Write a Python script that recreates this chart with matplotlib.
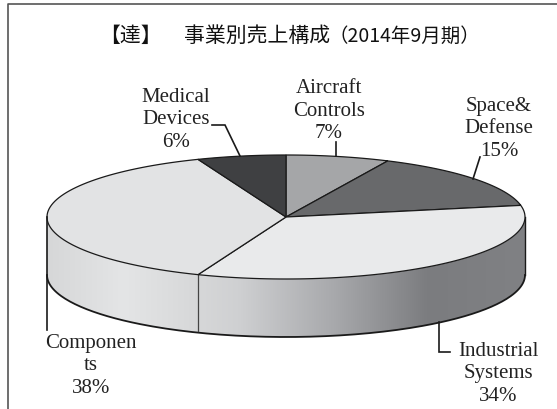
import numpy as np
import matplotlib
matplotlib.use('Agg')
import matplotlib.pyplot as plt
from matplotlib.colors import LinearSegmentedColormap
from matplotlib.patches import Polygon

# Values
segments = ['Aircraft\nControls', 'Space&\nDefense', 'Industrial\nSystems', 'Componen\nts', 'Medical\nDevices']
shares = [7, 15, 34, 38, 6]
top_colors = ['#a5a6a8', '#68696b', '#e9eaeb', '#e2e3e4', '#3f4042']

CX, CY, RX, RY, DEPTH = 286, 218, 239, 62, 58


def rim(a):
    # a is degrees clockwise from the top of the pie
    a = np.radians(a)
    return CX + RX * np.sin(a), CY - RY * np.cos(a)


fig = plt.figure(figsize=(5.57, 4.10), dpi=100)
ax = fig.add_axes([0, 0, 1, 1])
ax.set_xlim(0, 557)
ax.set_ylim(410, 0)
ax.axis('off')

# Outer frame, open on the right and at the bottom
ax.plot([7.5, 7.5, 557], [410, 4.5, 4.5], color='#555555', lw=1.2)

edges = np.concatenate([[0], np.cumsum(shares) * 3.6])

# Side wall, shaded left to right
side_cmap = LinearSegmentedColormap.from_list('side', [
    (0.00, '#d6d7d8'), (0.16, '#e4e5e6'), (0.32, '#d6d7d8'), (0.40, '#cfd0d2'),
    (0.60, '#a8a9ac'), (0.80, '#7b7c7f'), (1.00, '#808184')])
t = np.linspace(90, 270, 200)
x, y = rim(t)
wall = np.column_stack([np.r_[x, x[::-1]], np.r_[y, y[::-1] + DEPTH]])
grad = ax.imshow(np.linspace(0, 1, 256)[None, :], cmap=side_cmap, aspect='auto',
                 extent=[CX - RX, CX + RX, CY + RY + DEPTH, CY - RY], zorder=1)
grad.set_clip_path(Polygon(wall, transform=ax.transData))
ax.set_xlim(0, 557)
ax.set_ylim(410, 0)
ax.plot(x, y + DEPTH, color='#1a1a1a', lw=1.3, zorder=3)
ax.plot([CX + RX] * 2, [CY, CY + DEPTH], color='#1a1a1a', lw=1.0, zorder=3)

# Top slices
for share, a0, a1, c in zip(shares, edges[:-1], edges[1:], top_colors):
    x, y = rim(np.linspace(a0, a1, 80))
    ax.fill(np.r_[CX, x], np.r_[CY, y], facecolor=c, edgecolor='#1a1a1a', lw=0.9, zorder=4)

# Wall seam under the industrial / components border
sx, sy = rim(edges[3])
ax.plot([sx, sx], [sy, sy + DEPTH - 2], color='#444444', lw=0.9, zorder=3)

# Leader lines
leaders = [
    ([336, 336], [143, 157]),
    ([480, 473], [158, 180]),
    ([439, 439, 450], [323, 353, 353]),
    ([46.5, 46.5], [218, 331]),
    ([212, 225, 240], [126, 126, 157]),
]
for lx, ly in leaders:
    ax.plot(lx, ly, color='#1a1a1a', lw=1.2, zorder=5, solid_joinstyle='miter')

# Labels
labels = [f'{s}\n{v}%' for s, v in zip(segments, shares)]
label_pos = [(329, 111), (499, 129), (498, 374), (91, 366), (176, 120)]
for txt, (lx, ly) in zip(labels, label_pos):
    ax.text(lx, ly, txt, ha='center', va='center', fontsize=15, family='Liberation Serif',
            color='#222222', linespacing=1.23, zorder=6)

# Title in three pieces, the gaps and digit widths differ from the CJK font
title_font = ['Noto Sans CJK JP', 'DejaVu Sans']
ax.text(130, 36, '【達】', ha='center', va='center', fontsize=15, family=title_font, color='#111111')
ax.text(184, 36, '事業別売上構成', ha='left', va='center', fontsize=15, family=title_font, color='#111111')
ax.text(480, 36, '（2014年9月期）', ha='right', va='center', fontsize=14, family=title_font, color='#111111')

fig.savefig('out.png', dpi=100)
